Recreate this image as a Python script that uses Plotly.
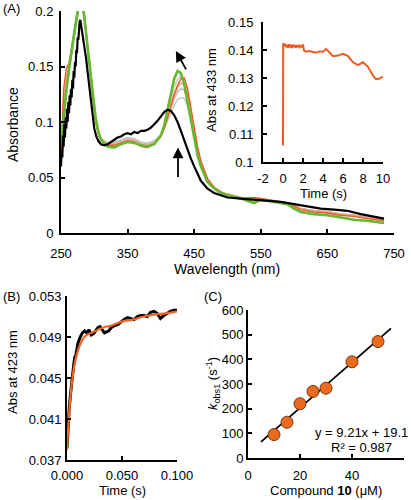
import plotly.graph_objects as go

# ---------------- Panel A: spectra ----------------
wl = [250,254,258,262,266,270,274,278,282,286,290,294,298,302,306,310,320,330,340,350,360,370,380,390,400,405,410,415,420,425,430,435,440,445,450,455,460,470,480,490,500,520,540,550,560,580,590,600,610,630,650,670,690,710,735]

abs_green = [0.080,0.105,0.128,0.148,0.166,0.181,0.196,0.212,0.210,0.190,0.168,0.148,0.125,0.104,0.091,0.084,0.078,0.077,0.080,0.082,0.081,0.079,0.078,0.080,0.088,0.097,0.110,0.125,0.139,0.146,0.144,0.134,0.118,0.100,0.083,0.070,0.060,0.046,0.040,0.036,0.034,0.031,0.027,0.030,0.029,0.027,0.026,0.022,0.019,0.017,0.016,0.014,0.012,0.011,0.009]
abs_orange = [0.062,0.130,0.148,0.153,0.166,0.181,0.196,0.212,0.210,0.192,0.168,0.144,0.121,0.101,0.089,0.083,0.079,0.079,0.081,0.083,0.082,0.078,0.077,0.080,0.087,0.094,0.104,0.115,0.125,0.133,0.139,0.140,0.130,0.113,0.094,0.078,0.065,0.049,0.041,0.037,0.034,0.031,0.032,0.031,0.030,0.028,0.027,0.024,0.021,0.019,0.018,0.016,0.015,0.013,0.011]
abs_pink = [0.070,0.120,0.140,0.150,0.165,0.180,0.195,0.210,0.208,0.190,0.166,0.143,0.121,0.101,0.090,0.084,0.080,0.080,0.082,0.084,0.083,0.080,0.079,0.081,0.088,0.095,0.104,0.114,0.124,0.131,0.135,0.134,0.125,0.109,0.091,0.076,0.063,0.048,0.041,0.037,0.035,0.032,0.031,0.031,0.030,0.028,0.027,0.025,0.022,0.020,0.019,0.017,0.016,0.014,0.012]
abs_grey1 = [0.075,0.115,0.135,0.150,0.166,0.181,0.196,0.211,0.209,0.191,0.168,0.146,0.123,0.103,0.091,0.085,0.080,0.080,0.082,0.084,0.083,0.080,0.079,0.081,0.088,0.096,0.107,0.119,0.131,0.139,0.141,0.135,0.122,0.105,0.088,0.073,0.062,0.047,0.041,0.037,0.035,0.032,0.029,0.031,0.030,0.028,0.027,0.024,0.021,0.019,0.018,0.016,0.015,0.013,0.011]
abs_grey2 = [0.072,0.110,0.132,0.148,0.164,0.179,0.194,0.208,0.206,0.189,0.166,0.144,0.122,0.103,0.091,0.085,0.081,0.081,0.083,0.085,0.084,0.081,0.080,0.082,0.088,0.095,0.104,0.113,0.121,0.127,0.130,0.129,0.121,0.106,0.089,0.075,0.063,0.048,0.041,0.037,0.035,0.032,0.030,0.031,0.030,0.028,0.027,0.025,0.022,0.020,0.019,0.017,0.016,0.014,0.012]
abs_grey3 = [0.070,0.105,0.128,0.145,0.162,0.177,0.192,0.205,0.203,0.187,0.164,0.142,0.120,0.102,0.090,0.085,0.081,0.082,0.084,0.086,0.085,0.082,0.081,0.083,0.088,0.094,0.101,0.108,0.115,0.120,0.122,0.121,0.115,0.102,0.087,0.073,0.062,0.048,0.041,0.037,0.035,0.032,0.030,0.031,0.030,0.028,0.027,0.025,0.022,0.020,0.019,0.017,0.016,0.014,0.012]

wl_black = [250,251,252,253,254,255,256,257,258,259,260,261,262,263,264,265,266,267,268,269,270,271,272,273,274,275,276,277,278,279,280,281,282,283,284,285,286,287,288,289,290,292,294,296,298,300,303,306,310,315,320,325,330,335,340,345,350,355,360,365,370,375,380,385,390,395,400,405,410,415,420,425,430,435,440,445,450,455,460,470,480,490,500,520,540,550,560,580,600,620,640,660,680,700,720,735]
abs_black = [0.060,0.075,0.068,0.088,0.078,0.098,0.086,0.104,0.094,0.112,0.100,0.118,0.108,0.124,0.115,0.130,0.122,0.138,0.130,0.146,0.140,0.154,0.150,0.165,0.162,0.176,0.174,0.186,0.190,0.192,0.188,0.186,0.181,0.178,0.174,0.172,0.168,0.162,0.156,0.150,0.145,0.132,0.121,0.110,0.101,0.094,0.087,0.083,0.080,0.079,0.080,0.082,0.084,0.086,0.087,0.089,0.090,0.089,0.091,0.090,0.092,0.092,0.093,0.095,0.098,0.101,0.105,0.109,0.111,0.110,0.106,0.100,0.092,0.083,0.075,0.067,0.060,0.053,0.047,0.040,0.036,0.034,0.032,0.031,0.030,0.030,0.029,0.028,0.026,0.024,0.022,0.021,0.020,0.017,0.015,0.013]

# ---------------- Inset: Abs at 433 nm vs time ----------------
t_inset = [0.0,0.02,0.1,0.2,0.3,0.4,0.5,0.6,0.7,0.8,0.9,1.0,1.1,1.2,1.3,1.4,1.5,1.6,1.7,1.8,1.9,2.0,2.1,2.3,2.6,3.0,3.3,3.6,4.0,4.3,4.6,5.0,5.5,6.0,6.5,7.0,7.5,8.0,8.5,9.0,9.3,9.6,10.0]
abs_inset = [0.106,0.1425,0.1415,0.1422,0.1410,0.1418,0.1408,0.1420,0.1412,0.1416,0.1407,0.1419,0.1411,0.1417,0.1409,0.1415,0.1412,0.1418,0.1410,0.1414,0.1412,0.1420,0.1398,0.1394,0.1396,0.1392,0.1390,0.1395,0.1394,0.1404,0.1392,0.1378,0.1380,0.1386,0.1378,0.1356,0.1346,0.1356,0.1340,0.1308,0.1296,0.1297,0.1305]
inset_xticks = [-2, 0, 2, 4, 6, 8, 10]

# ---------------- Panel B ----------------
t_b = [0.000,0.001,0.002,0.003,0.004,0.005,0.006,0.007,0.008,0.009,0.010,0.012,0.014,0.016,0.018,0.020,0.022,0.024,0.026,0.028,0.030,0.032,0.034,0.036,0.038,0.040,0.043,0.046,0.049,0.052,0.055,0.058,0.061,0.064,0.067,0.070,0.073,0.076,0.079,0.082,0.085,0.088,0.091,0.094,0.097,0.100]
abs_b = [0.0382,0.0405,0.0420,0.0432,0.0444,0.0455,0.0462,0.0470,0.0472,0.0478,0.0484,0.0490,0.0494,0.0496,0.0494,0.0497,0.0492,0.0493,0.0496,0.0499,0.0500,0.0497,0.0494,0.0495,0.0496,0.0499,0.0501,0.0502,0.0505,0.0507,0.0509,0.0508,0.0507,0.0510,0.0511,0.0511,0.0510,0.0514,0.0515,0.0513,0.0508,0.0511,0.0513,0.0515,0.0516,0.0516]
t_fit = [0,0.001,0.002,0.003,0.004,0.005,0.006,0.008,0.010,0.012,0.015,0.018,0.022,0.026,0.030,0.035,0.040,0.050,0.060,0.070,0.080,0.090,0.100]
abs_fit = [0.0380,0.0400,0.0416,0.0430,0.0441,0.0450,0.0458,0.0469,0.0477,0.0483,0.0489,0.0492,0.0494,0.0496,0.0498,0.0500,0.0501,0.0505,0.0507,0.0510,0.0512,0.0513,0.0515]
b_yticks = [0.037,0.041,0.045,0.049,0.053]

# ---------------- Panel C ----------------
conc = [10,15,20,25,30,40,50]
kobs = [95,145,220,270,283,390,472]
slope, intercept = 9.21, 19.1
fit_x = [5,55]

W, H = 411, 500
def px(x): return x / W
def py(y): return 1 - y / H

FONT = "Liberation Sans, Arial, Helvetica, sans-serif"

fig = go.Figure()
# Panel A traces
for ys, col, w in [(abs_grey3, '#c9c9c9', 1.6), (abs_grey2, '#bdbdbd', 1.6), (abs_grey1, '#cfcfcf', 1.6),
                   (abs_pink, '#e9a595', 1.6), (abs_orange, '#ef5a24', 1.4), (abs_green, '#66b82e', 2.6)]:
    fig.add_trace(go.Scatter(x=wl, y=ys, mode='lines', line=dict(color=col, width=w), xaxis='x', yaxis='y'))
fig.add_trace(go.Scatter(x=wl_black, y=abs_black, mode='lines', line=dict(color='black', width=2.2), xaxis='x', yaxis='y'))
# Inset
fig.add_trace(go.Scatter(x=t_inset, y=abs_inset, mode='lines', line=dict(color='#ef5a1e', width=2), xaxis='x2', yaxis='y2'))
# Panel B
fig.add_trace(go.Scatter(x=t_b, y=abs_b, mode='lines', line=dict(color='black', width=3), xaxis='x3', yaxis='y3'))
fig.add_trace(go.Scatter(x=t_fit, y=abs_fit, mode='lines', line=dict(color='#f26522', width=2.2, shape='spline'), xaxis='x3', yaxis='y3'))
# Panel C
fig.add_trace(go.Scatter(x=fit_x, y=[slope * v + intercept for v in fit_x], mode='lines', line=dict(color='black', width=1.8), xaxis='x4', yaxis='y4'))
fig.add_trace(go.Scatter(x=conc, y=kobs, mode='markers', marker=dict(size=12, color='#ec6a1c', line=dict(color='#7a3510', width=1)), xaxis='x4', yaxis='y4'))

def ax(**kw):
    d = dict(showline=True, linecolor='black', linewidth=2, ticks='inside', ticklen=4, tickwidth=1.5,
             tickcolor='black', showgrid=False, zeroline=False, mirror=False, automargin=False,
             tickfont=dict(size=13, color='black', family=FONT))
    d.update(kw)
    return d

fig.update_layout(
    template='none',
    width=W, height=H, margin=dict(l=0, r=0, t=0, b=0, pad=0, autoexpand=False), showlegend=False,
    paper_bgcolor='white', plot_bgcolor='rgba(0,0,0,0)',
    font=dict(family=FONT, color='black', size=13),
    xaxis=ax(domain=[px(61), px(394)], range=[250, 750], dtick=100, tick0=250, anchor='y', ticklabelstandoff=7),
    yaxis=ax(domain=[py(233), py(11)], range=[0, 0.2], tickvals=[0, 0.05, 0.1, 0.15, 0.2], ticktext=['0', '0.05', '0.1', '0.15', '0.2'], anchor='x', ticklabelstandoff=3),
    xaxis2=ax(domain=[px(263), px(383)], range=[-2, 10], tickvals=inset_xticks, ticktext=[str(v) for v in inset_xticks], anchor='y2', ticklabelstandoff=3),
    yaxis2=ax(domain=[py(162), py(22)], range=[0.1, 0.15], tickvals=[0.1, 0.11, 0.12, 0.13, 0.14, 0.15], ticktext=['0.1', '0.11', '0.12', '0.13', '0.14', '0.15'], anchor='x2', ticklabelstandoff=5),
    xaxis3=ax(domain=[px(67), px(177)], range=[0, 0.1], tickvals=[0, 0.05, 0.1], ticktext=['0.000', '0.050', '0.100'], anchor='y3', ticklabelstandoff=2),
    yaxis3=ax(domain=[py(460), py(296)], range=[0.037, 0.053], tickvals=b_yticks, ticktext=['%.3f' % v for v in b_yticks], anchor='x3', ticklabelstandoff=1),
    xaxis4=ax(domain=[px(248), px(404)], range=[0, 60], dtick=20, anchor='y4', ticklabelstandoff=4),
    yaxis4=ax(domain=[py(458), py(310)], range=[0, 600], dtick=100, anchor='x4'),
)

def note(text, x, y, size=13, angle=0, xanchor='center', **kw):
    fig.add_annotation(text=text, x=px(x), y=py(y), xref='paper', yref='paper', showarrow=False,
                       xanchor=xanchor, yanchor='middle',
                       font=dict(size=size, color='black', family=FONT), textangle=angle, **kw)

note('(A)', 11, 8)
note('(B)', 11, 296)
note('(C)', 213, 296)
note('Absorbance', 13, 125, size=14, angle=-90)
note('Wavelength (nm)', 227, 269, size=14)
note('Abs at 433 nm', 212, 90, size=13, angle=-90)
note('Time (s)', 323, 193, size=13)
note('Abs at 423 nm', 12, 372, size=13, angle=-90)
note('Time (s)', 122, 490, size=13)
note('<i>k</i><sub>obs1</sub> (s<sup>-1</sup>)', 213, 384, size=13, angle=-90)
note('Compound <b>10</b> (μM)', 326, 490, size=13)
note('y = 9.21x + 19.1', 361, 432, size=13)
note('R² = 0.987', 361, 447, size=13)

# Arrows in panel A
fig.add_annotation(x=425.7, y=0.077, ax=425.7, ay=0.049, xref='x', yref='y', axref='x', ayref='y',
                   showarrow=True, arrowhead=2, arrowsize=1.2, arrowwidth=1.8, arrowcolor='black', text='')
fig.add_annotation(x=422.5, y=0.164, ax=439, ay=0.146, xref='x', yref='y', axref='x', ayref='y',
                   showarrow=True, arrowhead=2, arrowsize=1.2, arrowwidth=1.8, arrowcolor='black', text='')

fig.write_html('out.html', config={'displayModeBar': False},
               post_script="document.body.style.margin='0';document.body.style.padding='0';")
